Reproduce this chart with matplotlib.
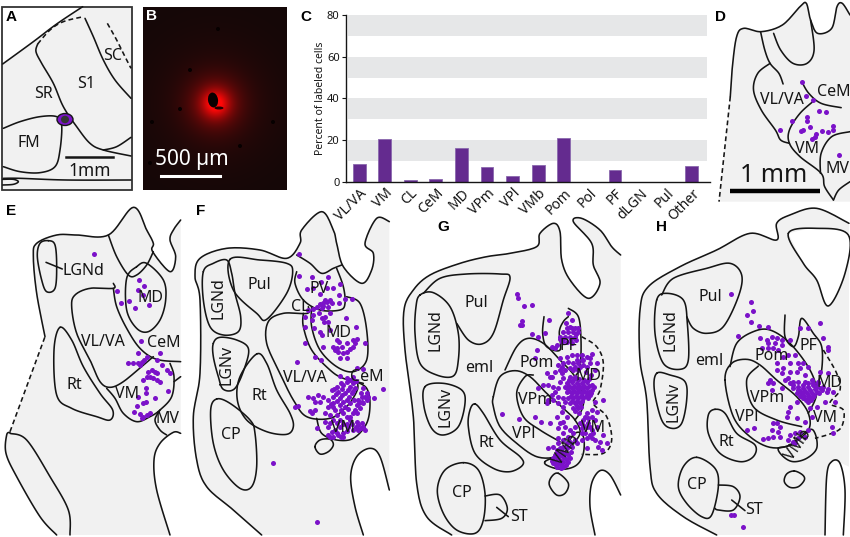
import numpy as np
import matplotlib
matplotlib.use("Agg")
import matplotlib.pyplot as plt
from matplotlib.patches import Ellipse, Rectangle

plt.rcParams['font.family'] = ['Noto Sans', 'DejaVu Sans']

# panel C values
regions = ["VL/VA", "VM", "CL", "CeM", "MD", "VPm", "VPl", "VMb", "Pom", "Pol", "PF", "dLGN", "Pul", "Other"]
percent_cells = [8.7, 20.6, 1.0, 1.1, 16.0, 7.2, 2.8, 8.2, 20.8, 0, 5.5, 0, 0, 7.6]

# labeled cells (3x crop pixels of each panel's crop)
cells_d = [(1427,245),(1437,288),(1456,300),(1474,334),(1494,336),(1440,350),(1439,364),(1396,363),(1364,391),
           (1423,392),(1428,391),(1447,382),(1483,393),(1500,397),(1513,377),(1515,390),(1465,403),(1463,410),
           (1455,418),(1532,466)]
cells_e = [(282,162),(350,272),(418,240),(432,258),(414,270),(430,285),(388,302),(362,308),(405,325),(448,316),
           (422,424),(415,460),(480,460),(385,488),(400,488),(415,490),(425,485),(440,470),(432,480),(420,495),
           (470,480),(485,495),(500,510),(510,520),(445,515),(455,510),(465,515),(470,520),(440,530),(430,540),
           (450,530),(460,535),(470,540),(480,545),(437,563),(415,590),(437,580),(505,572),(465,593),(410,618),
           (430,608),(437,605),(403,637),(420,642),(430,650),(440,645),(450,640),(425,655)]
cells_f = [(898,162),(898,228),(936,232),(963,247),(983,232),(1020,252),(920,268),(940,265),(1018,285),(982,265),
           (960,282),(1000,265),(1035,297),(1018,310),(990,300),(980,305),(970,310),(985,320),(965,325),(950,320),
           (940,328),(975,300),(1055,297),(915,350),(940,345),(925,330),(935,360),(915,380),(943,385),(965,355),
           (975,352),(990,340),(960,395),(967,405),(985,365),(1037,355),(1067,382),(990,390),(915,430),(968,440),
           (1000,440),(1010,420),(1018,425),(1025,440),(1015,455),(1005,450),(1040,430),(1060,420),(1072,418),
           (1060,440),(1096,430),(1040,455),(1020,475),(1040,475),(945,472),(963,480),(890,485),(1070,505),(1090,507),
           (1020,527),(1040,545),(1050,540),(1060,550),(1010,560),(1030,555),(1050,560),(1065,565),(995,570),
           (1015,575),(1035,580),(1055,580),(1000,590),(985,600),(1020,595),(1040,600),(925,590),(940,595),(955,585),
           (945,605),(960,605),(970,590),(895,618),(885,620),(1000,610),(1020,615),(1035,620),(1050,610),(985,620),
           (1005,630),(975,640),(990,645),(1010,645),(1030,640),(930,632),(945,630),(935,640),(975,665),(1000,660),
           (1020,660),(1040,650),(1090,565),(1100,580),(1085,590),(1100,600),(1075,600),(1090,610),(1070,615),
           (1080,625),(1065,630),(1060,640),(1050,650),(1150,568),(1123,593),(950,685),(985,680),(995,695),(1005,690),
           (985,705),(1000,710),(1015,705),(1030,700),(1030,712),(1045,680),(1060,690),(1075,690),(1090,680),
           (1095,690),(1050,660),(1070,665),(1085,670),(1040,672),(1020,680),(820,790),(952,967),
           (1003,567),(1024,548),(1041,533),(1058,531),(1068,542),(1027,566),(1044,570),(1060,572),(1008,583),
           (1027,586),(1047,590),(1062,600),(993,612),(1012,603),(1030,607),(1044,628),(1022,630),(1000,622),
           (1082,578),(1095,592),(1078,610),(1103,590),(1072,638),(1085,605),(1012,668),(990,668),(1028,672),
           (1055,672),(1068,680),(1082,683),(990,712),(1010,698),(1022,712),(1040,692),(1075,675),(970,318),
           (995,310),(960,312),(958,340),(972,365),(1012,445),(1030,460),(1065,428),(1050,448)]
cells_g = [(352,283),(353,295),(373,317),(395,315),(365,362),(360,375),(365,375),(448,360),(435,400),(395,403),
           (415,410),(505,340),(515,360),(498,370),(510,380),(525,385),(535,385),(490,395),(505,395),(520,395),
           (535,395),(480,410),(495,410),(510,410),(525,410),(485,425),(500,425),(470,435),(455,440),(465,445),
           (515,430),(410,450),(405,475),(480,475),(500,470),(515,465),(530,465),(545,465),(575,462),(560,470),
           (550,480),(570,490),(585,510),(490,490),(505,485),(520,490),(535,490),(550,495),(560,500),(480,510),
           (495,510),(510,505),(440,520),(450,530),(485,520),(520,510),(535,510),(490,535),(510,530),(525,530),
           (430,555),(445,555),(460,560),(475,565),(415,565),(500,550),(515,545),(530,550),(545,550),(560,545),
           (575,555),(515,565),(530,565),(545,565),(560,565),(575,570),(500,575),(515,580),(530,580),(545,580),
           (560,580),(570,585),(505,595),(520,595),(535,595),(550,595),(565,595),(510,610),(525,610),(540,610),
           (585,605),(608,600),(520,625),(535,625),(575,630),(590,635),(560,640),(575,650),(445,600),(440,610),
           (460,600),(475,610),(490,620),(485,635),(500,650),(470,650),(490,665),(305,643),(357,656),(405,652),
           (423,665),(450,670),(480,670),(495,680),(475,685),(510,690),(525,680),(540,670),(550,660),(565,670),
           (585,660),(560,680),(575,690),(590,680),(545,685),(555,700),(570,705),(585,720),(600,725),(610,705),
           (620,730),(605,750),(560,715),(545,720),(560,745),(490,700),(475,715),(490,720),(505,710),(520,700),
           (510,725),(490,740),(475,730),(460,740),(445,745),(470,760),(485,755),(500,745),(515,740),(530,730),
           (460,775),(475,775),(490,770),(505,765),(460,790),(475,790),(490,785),(505,785),(470,800),(490,800),
           (507,540),(522,538),(537,538),(552,540),(568,538),(507,558),(523,557),(538,557),(553,557),(568,557),
           (582,562),(508,572),(523,572),(538,572),(553,572),(567,575),(512,588),(527,588),(542,588),(557,588),
           (572,578),(516,603),(531,603),(546,603),(530,618),(543,620),(525,633),(538,640),(500,565),(480,545),
           (495,560),(465,575),(455,585),(490,595),(475,590),(495,605),(455,530),(500,385),(515,385),(528,402),
           (490,418),(512,418),(528,420),(480,418),(465,765),(480,765),(495,760),(455,782),(468,782),(482,782),
           (498,778),(510,775),(468,795),(482,795),(497,795),(483,805),(512,755),(525,720),(500,730),(480,745),
           (470,750),(555,650),(565,655),(550,675),(570,680),(580,700),(545,700),(595,740),(575,715),(530,480),
           (545,480),(540,500),(525,500),(570,475),(590,490),(558,515),(572,525),(475,495),(465,515),(485,500)]
cells_h = [(993,283),(1053,305),(1058,333),(1040,345),(1053,367),(1078,377),(1105,380),(1015,407),(1200,383),
           (1225,385),(1260,368),(1285,440),(1283,450),(1268,415),(1080,413),(1115,412),(1130,415),(1145,420),
           (1105,430),(1125,430),(1145,435),(1085,445),(1105,445),(1170,420),(1185,465),(1165,465),(1150,470),
           (1195,490),(1130,490),(1170,490),(1210,490),(1130,510),(1145,520),(1170,515),(1190,515),(1215,525),
           (1150,505),(1110,540),(1120,550),(1105,550),(1115,570),(1145,565),(1165,535),(1180,545),(1195,545),
           (1260,515),(1285,520),(1215,545),(1235,540),(1180,565),(1195,570),(1210,565),(1225,560),(1240,555),
           (1255,550),(1190,580),(1205,580),(1220,580),(1235,580),(1250,575),(1265,570),(1280,575),(1300,575),
           (1210,595),(1225,595),(1240,590),(1190,605),(1225,605),(1260,565),(1305,605),(1275,605),(1170,620),
           (1165,635),(1160,650),(1190,655),(1230,625),(1215,665),(1235,650),(1250,620),(1295,680),(1300,698),
           (1040,690),(1063,685),(1118,670),(1130,670),(1140,680),(1115,690),(1135,695),(1090,718),(1105,715),
           (1120,710),(1140,710),(1170,705),(1185,700),(1200,695),(1225,690),(1165,720),(1180,725),(1195,715),
           (1215,710),(993,945),(1003,945),(1030,980),(1185,730),
           (1195,560),(1210,555),(1225,550),(1240,548),(1200,572),(1215,572),(1230,570),(1245,568),(1200,587),
           (1213,587),(1228,587),(1243,585),(1218,600),(1233,600),(1248,560),(1180,555),(1170,550),(1155,540),
           (1258,580),(1270,560),(1285,568),(1100,420),(1118,445),(1135,450),(1200,505),(1225,500),(1255,545)]

PURPLE = "#7b12c9"
GRAY = "#f1f1f1"
INK = "#151515"

# crop pixels per picture pixel along x; panel D's crop came out narrower
x_div = 3.0


def smooth(pts, closed=False, n=12):
    """Catmull-Rom through the outline points"""
    p = np.array(pts, dtype=float)
    if closed:
        p = np.vstack([p[-1], p, p[0], p[1]])
    else:
        p = np.vstack([p[0], p, p[-1]])
    out = []
    for i in range(1, len(p) - 2):
        t = np.linspace(0, 1, n, endpoint=False)[:, None]
        a, b, c, d = p[i - 1], p[i], p[i + 1], p[i + 2]
        out.append(0.5 * (2 * b + (c - a) * t + (2 * a - 5 * b + 4 * c - d) * t ** 2 + (3 * b - a - 3 * c + d) * t ** 3))
    out.append(p[-2][None, :])
    return np.vstack(out)


fig = plt.figure(figsize=(8.5, 5.37), dpi=100)
ax = fig.add_axes([0, 0, 1, 1])


def to_fig(xy, ox, oy):
    return xy / np.array([x_div, 3.0]) + np.array([ox, oy])


def fill(pieces, ox, oy, color=GRAY, z=1):
    # every piece is smoothed alone, so the joins between pieces stay sharp corners
    xy = to_fig(np.vstack([smooth(p) for p in pieces]), ox, oy)
    ax.fill(xy[:, 0], xy[:, 1], color=color, lw=0, zorder=z)


def line(pts, ox, oy, closed=False, ls="-", z=3):
    xy = to_fig(smooth(pts, closed), ox, oy)
    ax.plot(xy[:, 0], xy[:, 1], color=INK, lw=1.15, ls=ls, zorder=z, solid_capstyle="round")


def dash(pts, ox, oy):
    line(pts, ox, oy, ls=(0, (3, 2)))


def dots(cells, ox, oy):
    xy = to_fig(np.array(cells, dtype=float), ox, oy)
    ax.scatter(xy[:, 0], xy[:, 1], s=13, color=PURPLE, lw=0, zorder=4)


def lab(x, y, s, ox, oy, size=11.5, rot=0, color=INK):
    ax.text(x / x_div + ox, y / 3 + oy, s, ha="center", va="center", fontsize=size, rotation=rot, color=color, zorder=5)


def letter(x, y, s, color="black"):
    ax.text(x, y, s, ha="center", va="center", fontsize=11, fontweight="bold", color=color,
            family=["Liberation Sans", "DejaVu Sans"], zorder=6)


# ---- A ----
ox, oy = 0, 0
a_top = [(8,192),(100,125),(170,72),(248,20)]
fill([a_top, [(394,20)], [(394,572)], [(8,572)]], ox, oy)
ax.add_patch(Rectangle((2, 7), 130, 183, fill=False, ec="#333333", lw=1.3, zorder=3))
line(a_top, ox, oy)
dash([(113,132),(150,90),(190,65),(250,50)], ox, oy)
line([(113,132),(108,155),(125,190),(160,250),(190,320),(230,380),(270,430),(310,450),(393,468)], ox, oy)
line([(255,55),(280,110),(310,180),(345,240),(393,295)], ox, oy)
dash([(322,70),(350,120),(375,170),(393,205)], ox, oy)
line([(10,385),(60,365),(120,350),(170,350),(185,375),(180,450),(165,500),(120,518),(60,515),(10,500)], ox, oy)
line([(393,412),(350,440),(310,450)], ox, oy)
line([(10,535),(60,535),(200,540),(393,540)], ox, oy)
line([(8,538),(40,538),(55,545),(40,553),(8,555)], ox, oy)
ax.add_patch(Ellipse((65, 119.5), 16, 12, fc=PURPLE, ec=INK, lw=1, zorder=4))
ax.add_patch(Ellipse((65, 119.5), 8, 7.5, fc="#333333", ec="none", zorder=5))
ax.plot([66, 113], [157, 157], color=INK, lw=1.8, zorder=3)
lab(270, 512, "1mm", ox, oy, 12.5)
lab(130, 283, "SR", ox, oy)
lab(260, 252, "S1", ox, oy)
lab(338, 168, "SC", ox, oy)
lab(85, 428, "FM", ox, oy)
letter(11.5, 17, "A")

# ---- B ----
yy, xx = np.mgrid[7:190, 143:287]
r = np.hypot(xx - 215, yy - 103)
red = 0.08 + 0.10 * np.exp(-(r / 58) ** 2) + 0.36 * np.exp(-(r / 26) ** 2) + 0.60 * np.exp(-(r / 13) ** 2)
b_img = np.dstack([np.clip(red, 0, 1), np.full(red.shape, 0.03), np.full(red.shape, 0.03)])
ax.imshow(b_img, extent=(143, 287, 190, 7), aspect="auto", zorder=1)
ax.add_patch(Ellipse((213, 100), 10, 15, angle=-8, fc="#0a0000", ec="none", zorder=2))
ax.add_patch(Ellipse((219, 108), 9, 3, fc="#200000", ec="none", zorder=2))
for sx, sy in [(180, 109), (190, 70), (152, 122), (240, 146), (273, 122), (218, 29), (150, 163)]:
    ax.add_patch(Ellipse((sx, sy), 4, 4, fc="#060000", ec="none", zorder=2))
ax.plot([161, 220], [176, 176], color="white", lw=2.2, zorder=3)
ax.text(192, 160, "500 µm", color="white", fontsize=15, ha="center", va="center", zorder=5)
letter(152, 16, "B", "white")

# ---- C ----
letter(306, 17, "C")
axc = fig.add_axes([345.8 / 850, 1 - 181.7 / 537, (709.5 - 345.8) / 850, (181.7 - 15) / 537])
axc.set_facecolor("none")
x_pos = np.arange(len(regions))
for lo in [10, 30, 50, 70]:
    axc.axhspan(lo, lo + 10, xmin=0.006, xmax=0.994, color="#e6e7e8", lw=0, zorder=0)
axc.bar(x_pos, percent_cells, width=0.5, color="#642b8f", edgecolor="#8a68ae", linewidth=0.6, zorder=2)
axc.set_xlim(-0.52, 13.69)
axc.set_ylim(0, 80)
axc.set_yticks([0, 20, 40, 60, 80])
axc.tick_params(axis="y", length=3, width=0.8, labelsize=8, pad=1.5, colors=INK)
axc.set_xticks(x_pos)
axc.set_xticklabels(regions, rotation=45, ha="right", rotation_mode="anchor", fontsize=10, color=INK)
axc.tick_params(axis="x", length=0, pad=3)
axc.set_ylabel("Percent of labeled cells", fontsize=7.5, labelpad=1, color=INK)
for side in ["top", "right"]:
    axc.spines[side].set_visible(False)
for side in ["left", "bottom"]:
    axc.spines[side].set_linewidth(1)
    axc.spines[side].set_color(INK)

# ---- D ----
ox, oy = 300, 0
x_div = 2.84
d_outer = [(1222,290),(1228,200),(1240,110),(1260,85),(1310,95),(1370,75),(1420,20),(1438,10),(1450,60),(1470,100),
           (1510,85),(1525,20),(1540,10),(1562,45)]
fill([d_outer, [(1562,605)], [(1190,605)]], ox, oy)
line(d_outer, ox, oy)
dash([(1222,290),(1190,605)], ox, oy)
line([(1345,100),(1365,150),(1400,190),(1440,190),(1460,150),(1450,60)], ox, oy)
line([(1308,95),(1320,150),(1335,190),(1360,220),(1372,252)], ox, oy)
line([(1335,190),(1300,220),(1288,270),(1310,330),(1350,390),(1365,420),(1390,430)], ox, oy)
line([(1462,300),(1420,340),(1390,390),(1390,430),(1420,470),(1480,520),(1490,560),(1515,600)], ox, oy)
line([(1425,245),(1445,280),(1480,310),(1537,323)], ox, oy)
line([(1562,395),(1510,410),(1480,460),(1478,520)], ox, oy)
line([(1562,545),(1530,570),(1515,600)], ox, oy)
dots(cells_d, ox, oy)
lab(1370, 300, "VL/VA", ox, oy)
lab(1515, 277, "CeM", ox, oy)
lab(1440, 447, "VM", ox, oy)
lab(1526, 508, "MV", ox, oy)
lab(1345, 525, "1 mm", ox, oy, 18)
ax.plot([730, 820], [190.7, 190.7], color="black", lw=3.2, solid_capstyle="butt", zorder=3)
letter(721, 17, "D")
x_div = 3.0

# ---- E ----
ox, oy = 0, 200
e_outer = [(135,410),(110,280),(100,170),(110,130),(170,105),(230,105),(325,105),(400,22),(440,90),(460,130),(458,155),
           (510,215),(527,170),(510,120),(520,90),(542,60)]
e_bottom = [(520,697),(480,730),(462,780),(470,870),(510,1005)]
e_lobe = [(170,1005),(120,950),(50,830),(18,760),(20,705),(30,697)]
fill([e_outer, [(542,700)], e_bottom, e_lobe], ox, oy)
line(e_outer, ox, oy)
line([(542,700)] + e_bottom, ox, oy)
line(e_lobe, ox, oy)
dash([(30,695),(135,410)], ox, oy)
line([(30,700),(80,720),(150,830),(205,930),(210,1005)], ox, oy)
line([(145,122),(165,135),(170,200),(165,265),(140,275),(125,240),(112,170),(120,130)], ox, oy, closed=True)
line([(138,187),(187,207)], ox, oy)
line([(410,200),(380,235),(380,330),(410,385),(445,395),(480,360),(497,300),(490,240),(440,190)], ox, oy, closed=True)
line([(325,105),(350,170),(385,225),(410,225),(440,195),(460,155)], ox, oy)
line([(340,250),(340,265),(270,265),(225,285),(215,320),(230,400),(270,480),(300,545),(330,562),(370,545),(430,495),(460,470)], ox, oy)
line([(340,265),(350,320),(380,385),(420,445),(470,478),(542,485)], ox, oy)
line([(320,565),(345,595),(370,640),(410,665),(450,650),(480,630),(515,590),(522,530),(510,490)], ox, oy)
line([(522,545),(542,530)], ox, oy)
line([(480,630),(465,660),(480,690),(500,705)], ox, oy)
line([(180,382),(215,420),(250,500),(300,580),(338,630),(330,660),(290,650),(215,625),(170,585),(162,450)], ox, oy, closed=True)
dots(cells_e, ox, oy)
for x, y, s in [(250,212,"LGNd"),(452,293,"MD"),(310,427,"VL/VA"),(490,430,"CeM"),(222,555,"Rt"),(382,582,"VM"),(503,657,"MV")]:
    lab(x, y, s, ox, oy)
letter(11, 211, "E")

# ---- F ----
f_outer = [(785,1005),(700,930),(620,860),(590,780),(580,650),(600,520),(600,300),(585,230),(600,175),(680,145),(780,150),
           (860,175),(900,130),(905,90),(965,35),(1000,90),(1010,130),(1030,200),(1085,250),(1115,210),(1120,160),
           (1095,130),(1130,55),(1168,65)]
f_bottom = [(1168,870),(1140,770),(1110,745),(1070,770),(1052,830),(1065,920),(1090,1005)]
fill([f_outer, f_bottom], ox, oy)
line(f_outer, ox, oy)
line(f_bottom, ox, oy)
line([(890,165),(930,190),(965,220),(1000,205),(1025,195)], ox, oy)
line([(890,215),(885,250),(910,300),(960,330),(1020,330),(1035,310),(1030,260),(1010,205)], ox, oy)
line([(935,320),(935,380),(960,450),(1010,500),(1060,515),(1100,480),(1100,390),(1080,310),(1040,290)], ox, oy)
line([(910,340),(910,380),(935,450),(990,510),(1030,535),(1090,550)], ox, oy)
line([(925,320),(922,340),(850,340),(805,365),(800,430),(840,520),(880,600),(920,650),(990,655),(1040,620),(1072,570),(1070,540)], ox, oy)
line([(950,655),(965,700),(1010,720),(1060,715),(1100,670),(1110,610),(1100,565),(1070,545)], ox, oy)
line([(945,740),(960,720),(990,718),(1000,735),(985,755),(960,762)], ox, oy, closed=True)
line([(610,215),(640,190),(680,180),(695,220),(705,280),(722,350),(715,395),(670,405),(630,380),(610,300)], ox, oy, closed=True)
line([(690,178),(780,180),(860,190),(878,215),(860,280),(800,358),(770,340),(700,270)], ox, oy, closed=True)
line([(640,430),(660,412),(710,420),(745,445),(735,500),(705,565),(670,568),(655,530),(640,470)], ox, oy, closed=True)
line([(770,462),(800,490),(830,570),(870,640),(880,680),(860,703),(800,695),(740,660),(712,600),(720,530)], ox, oy, closed=True)
line([(650,597),(690,610),(750,660),(765,700),(770,800),(755,860),(720,865),(670,810),(640,730),(632,630)], ox, oy, closed=True)
dots(cells_f, ox, oy)
for x, y, s in [(778,255,"Pul"),(958,268,"PV"),(900,322,"CL"),(1015,398,"MD"),(915,535,"VL/VA"),(1100,532,"CeM"),(778,588,"Rt"),(1030,685,"VM"),(693,705,"CP")]:
    lab(x, y, s, ox, oy)
lab(655, 295, "LGNd", ox, oy, rot=90)
lab(680, 495, "LGNv", ox, oy, rot=90)
letter(201, 211, "F")

# ---- G ----
ox, oy = 400, 200
g_outer = [(155,1005),(80,950),(50,850),(40,650),(15,450),(12,330),(40,270),(90,225),(180,190),(260,170),(330,160),(410,140),
           (420,100),(460,70),(480,95),(485,180),(510,240),(565,295),(600,250),(580,195),(575,130),(520,65),(545,55),
           (600,90),(635,140),(662,165)]
g_bottom = [(662,885),(630,825),(600,812),(575,850),(570,920),(585,1005)]
fill([g_outer, g_bottom], ox, oy)
line(g_outer, ox, oy)
line(g_bottom, ox, oy)
line([(70,280),(120,235),(200,222),(300,222),(330,232),(310,300),(280,400),(245,432),(205,420),(170,370)], ox, oy)
line([(60,285),(100,278),(150,320),(175,400),(175,480),(160,528),(110,525),(60,490),(45,400),(48,320)], ox, oy, closed=True)
line([(75,560),(130,550),(185,570),(195,610),(175,680),(130,705),(95,685),(72,620)], ox, oy, closed=True)
line([(225,612),(250,640),(300,720),(360,770),(368,795),(330,815),(280,805),(225,760),(205,680),(210,630)], ox, oy, closed=True)
line([(190,788),(235,810),(255,880),(250,960),(225,1000),(170,990),(130,940),(112,870),(135,810)], ox, oy, closed=True)
line([(255,888),(300,885),(322,925),(305,955),(255,962)], ox, oy)
line([(290,922),(325,950)], ox, oy)
line([(280,590),(300,530),(345,512),(390,530),(440,580),(490,625),(525,660),(540,700),(510,740),(470,770),(410,770),(350,730),(300,680),(280,620)], ox, oy, closed=True)
line([(400,525),(375,530),(350,580),(370,650),(420,690),(480,725)], ox, oy)
line([(315,510),(350,440),(385,415),(430,430),(480,480),(525,530),(550,590),(545,630),(525,660)], ox, oy)
line([(505,325),(535,350),(543,420),(540,500),(525,530)], ox, oy)
line([(432,350),(428,400),(440,440),(480,450),(478,395),(490,365),(505,350)], ox, oy)
dash([(545,410),(590,440),(610,490),(600,570),(580,610),(620,650),(635,720),(610,760),(545,763)], ox, oy)
line([(435,785),(480,760),(525,700),(550,710),(550,760),(530,795),(490,808),(450,800)], ox, oy, closed=True)
line([(475,820),(505,850),(495,880),(470,885),(448,855),(455,830)], ox, oy, closed=True)
dots(cells_g, ox, oy)
for x, y, s in [(228,310,"Pul"),(237,505,"eml"),(410,490,"Pom"),(505,437,"PF"),(565,527,"MD"),(405,600,"VPm"),(372,702,"VPl"),(580,683,"VM"),(258,730,"Rt"),(187,878,"CP"),(358,952,"ST")]:
    lab(x, y, s, ox, oy)
lab(107, 390, "LGNd", ox, oy, rot=90)
lab(138, 620, "LGNv", ox, oy, rot=90)
lab(500, 750, "VMb", ox, oy, rot=55)
letter(443, 227, "G")

# ---- H ----
h_outer = [(950,1005),(850,950),(770,880),(750,800),(740,600),(720,480),(720,330),(745,260),(840,200),(950,150),(1050,100),
           (1130,120),(1130,70),(1170,45),(1250,25),(1347,70)]
h_slit = [(1325,790),(1295,785),(1280,830),(1275,1005)]
h_hole = [(1165,100),(1250,85),(1345,105),(1335,220),(1285,318),(1250,240),(1210,190)]
fill([h_outer, [(1347,800)], h_slit], ox, oy)
fill([h_hole], ox, oy, color="white", z=2)
line(h_outer, ox, oy)
line(h_hole, ox, oy, closed=True)
line([(1330,1005),(1335,870),(1320,790),(1295,785),(1280,830),(1275,1005)], ox, oy)
line([(785,285),(820,235),(920,205),(990,190),(1025,225),(1015,290),(970,380),(920,400),(880,385),(860,350)], ox, oy)
line([(770,300),(800,280),(850,300),(862,370),(865,480),(840,508),(790,490),(765,400)], ox, oy, closed=True)
line([(770,520),(810,525),(855,545),(860,600),(845,670),(815,685),(785,660),(763,570)], ox, oy, closed=True)
line([(945,628),(975,640),(1010,700),(1065,735),(1060,770),(1020,785),(960,760),(925,700),(925,645)], ox, oy, closed=True)
line([(890,772),(945,805),(955,860),(935,945),(905,950),(860,910),(835,860),(850,800)], ox, oy, closed=True)
line([(955,855),(1000,860),(1020,890),(1000,930),(955,930),(945,925)], ox, oy)
line([(995,900),(1035,932)], ox, oy)
line([(1183,813),(1208,825),(1213,840),(1195,860),(1170,862),(1153,845),(1160,822)], ox, oy, closed=True)
line([(975,540),(995,490),(1040,478),(1080,495),(1130,540),(1190,590),(1225,640),(1225,690),(1170,735),(1110,742),(1050,710),(1000,650)], ox, oy, closed=True)
line([(1075,498),(1040,540),(1060,620),(1130,660),(1205,680)], ox, oy)
line([(990,500),(1010,430),(1060,395),(1110,390),(1170,430),(1230,510),(1250,580),(1225,640)], ox, oy)
line([(1155,345),(1155,410),(1180,440),(1195,410),(1205,355),(1240,400),(1265,440),(1265,510),(1250,560)], ox, oy)
dash([(1270,450),(1310,520),(1320,570),(1290,610),(1330,630),(1325,680),(1295,700),(1245,715)], ox, oy)
line([(1135,745),(1170,735),(1225,690),(1245,700),(1250,745),(1220,775),(1180,785),(1150,770)], ox, oy, closed=True)
dots(cells_h, ox, oy)
for x, y, s in [(932,290,"Pul"),(928,483,"eml"),(1115,468,"Pom"),(1225,437,"PF"),(1288,548,"MD"),(1100,595,"VPm"),(1040,650,"VPl"),(1275,655,"VM"),(978,725,"Rt"),(890,855,"CP"),(1063,930,"ST")]:
    lab(x, y, s, ox, oy)
lab(812, 390, "LGNd", ox, oy, rot=90)
lab(822, 605, "LGNv", ox, oy, rot=90)
lab(1195, 735, "VMb", ox, oy, rot=55)
letter(662, 227, "H")

# imshow and the plots change the limits, so set them last
ax.set_xlim(0, 850)
ax.set_ylim(537, 0)
ax.axis("off")

fig.savefig("out.png", dpi=100, facecolor="white")
